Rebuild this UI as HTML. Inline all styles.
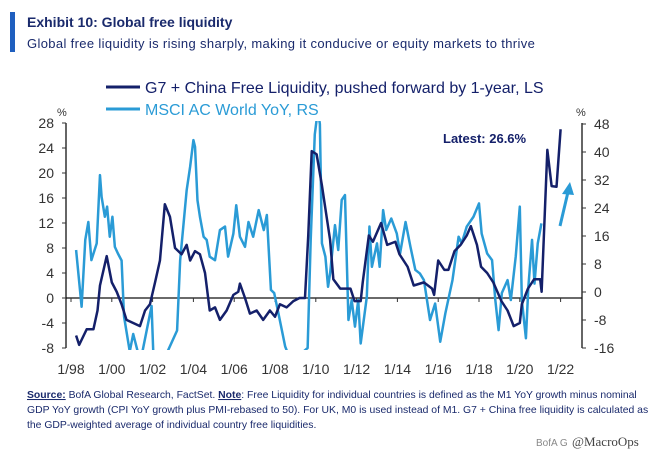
<!DOCTYPE html>
<html><head><meta charset="utf-8"><style>
body{margin:0;background:#fff;width:662px;height:456px;overflow:hidden;font-family:"Liberation Sans",sans-serif}
</style></head><body>
<svg id="c" width="662" height="456" viewBox="0 0 662 456" xmlns="http://www.w3.org/2000/svg">
<rect x="10" y="12" width="5" height="40" fill="#1f5fbf"/>
<text x="27" y="27" font-size="14" font-weight="bold" fill="#1a2a6c">Exhibit 10: Global free liquidity</text>
<text x="27" y="48" font-size="13" letter-spacing="0.35" fill="#1a2a6c">Global free liquidity is rising sharply, making it conducive or equity markets to thrive</text>
<line x1="106" y1="87" x2="140" y2="87" stroke="#14206a" stroke-width="3"/>
<text x="145" y="93" font-size="16" fill="#14206a">G7 + China Free Liquidity, pushed forward by 1-year, LS</text>
<line x1="106" y1="109" x2="140" y2="109" stroke="#2a9bd6" stroke-width="3"/>
<text x="145" y="115" font-size="16" fill="#2a9bd6">MSCI AC World YoY, RS</text>
<text x="57" y="116" font-size="11" fill="#333">%</text>
<text x="576" y="116" font-size="11" fill="#333">%</text>
<text x="443" y="143" font-size="13" font-weight="bold" fill="#14206a">Latest: 26.6%</text>
<g id="axes"></g>
<defs><clipPath id="clip"><rect x="66" y="121" width="516" height="229"/></clipPath></defs>
<g clip-path="url(#clip)" id="series"></g>
<line x1="560" y1="226" x2="568" y2="192" stroke="#2a9bd6" stroke-width="3"/>
<polygon points="570,182 562,194 574,195" fill="#2a9bd6"/>
<text x="27" y="398" font-size="10.4" fill="#1a2a6c"><tspan font-weight="bold" text-decoration="underline">Source:</tspan> BofA Global Research, FactSet. <tspan font-weight="bold" text-decoration="underline">Note</tspan>: Free Liquidity for individual countries is defined as the M1 YoY growth minus nominal</text>
<text x="27" y="413" font-size="10.4" fill="#1a2a6c">GDP YoY growth (CPI YoY growth plus PMI-rebased to 50). For UK, M0 is used instead of M1. G7 + China free liquidity is calculated as</text>
<text x="27" y="428" font-size="10.4" fill="#1a2a6c">the GDP-weighted average of individual country free liquidities.</text>
<text x="536" y="446" font-size="10" fill="#888">BofA G</text>
<text x="572" y="446" font-size="13" font-family="Liberation Serif" fill="#444">@MacroOps</text>
</svg>
<script>
const liqYears=[1998.25,1998.4,1998.77,1999.1,1999.3,1999.42,1999.75,2000.0,2000.24,2000.48,2000.72,2001.05,2001.38,2001.63,2001.87,2002.12,2002.36,2002.6,2002.85,2003.1,2003.42,2003.67,2003.84,2004.08,2004.32,2004.57,2004.8,2005.06,2005.3,2005.63,2005.96,2006.2,2006.28,2006.53,2006.77,2007.1,2007.42,2007.75,2008.0,2008.24,2008.57,2008.9,2009.2,2009.47,2009.63,2009.8,2010.04,2010.3,2010.7,2010.86,2011.2,2011.7,2011.9,2012.2,2012.3,2012.6,2012.8,2013.2,2013.5,2013.9,2014.1,2014.5,2014.8,2015.3,2015.7,2015.8,2016.0,2016.3,2016.5,2016.8,2017.1,2017.4,2017.6,2017.9,2018.1,2018.4,2018.7,2019.1,2019.4,2019.7,2020.0,2020.1,2020.4,2020.7,2021.0,2021.07,2021.35,2021.56,2021.8,2022.0];
const liqValues=[-6,-7.5,-5,-5,-2,2,6.7,2.5,1,-1,-3.5,-4,-4.5,-2,-1,2.5,6,15,13,8,7,8.5,6,7.5,7,4,-2,-1.5,-3.5,-2,0.5,1,2.3,0,-2.5,-2,-3.5,-2,-3,-1,-1.5,-0.5,0,0,10,23.5,23,18,9.3,3,1.5,1.5,-0.5,-0.5,2.5,10,9,12,8.5,9,7,5,2,2.5,1.5,0.5,6,4.5,4.5,7.5,8.5,10,11.5,8.5,5,4,2.5,-0.5,-2,-4.5,-4,-1,1.5,3,3,1,23.7,17.9,17.8,27];
const msciYears=[1998.25,1998.52,1998.7,1998.85,1999.0,1999.26,1999.42,1999.5,1999.66,1999.77,1999.9,2000.03,2000.15,2000.3,2000.48,2000.6,2000.88,2001.05,2001.4,2001.95,2002.05,2002.5,2003.2,2003.35,2003.67,2003.84,2004.0,2004.08,2004.2,2004.32,2004.5,2004.65,2004.8,2005.06,2005.3,2005.55,2005.7,2005.96,2006.1,2006.28,2006.53,2006.7,2006.93,2007.2,2007.45,2007.6,2007.8,2007.96,2008.2,2008.5,2008.8,2009.6,2009.75,2009.95,2010.1,2010.2,2010.3,2010.47,2010.6,2010.7,2010.94,2011.1,2011.27,2011.43,2011.6,2011.76,2011.92,2012.08,2012.2,2012.5,2012.63,2012.75,2013.0,2013.13,2013.3,2013.45,2013.7,2013.97,2014.13,2014.4,2014.64,2014.88,2015.1,2015.3,2015.6,2015.85,2016.1,2016.35,2016.7,2017.0,2017.15,2017.4,2017.73,2018.0,2018.13,2018.4,2018.64,2018.8,2018.96,2019.12,2019.4,2019.56,2019.8,2020.0,2020.1,2020.3,2020.42,2020.6,2020.72,2020.88,2021.06];
const msciValues=[12,-4.2,14.9,20,9.1,13.9,33.4,27.2,21.5,24.4,15.8,21.5,12.9,11,9,-7,-17,-12,-20,-4,-20,-20,-11,9,29.1,35.8,43.4,41.5,26.2,21.5,15.8,14.9,10.1,9.1,17.7,18.7,10.1,16.7,24.8,15.8,12.9,20,15.8,23.4,17.7,22,0.6,-0.3,-7,-15.6,-20,-16,14.9,45,52,48,13.9,10.1,1.5,5.3,19.1,12,26.3,27.7,-8,-2.3,-9.9,-2.3,-14.7,-1.4,18.7,7.2,13.9,7.2,23.4,17.7,21,16.7,11,20,12.9,6.3,5.3,3.4,-8,-3.3,-14.2,-6.1,3.4,15.8,13.9,18.7,21.5,25.3,16.7,11,9.1,-2.3,-10.9,-0.3,3.4,-2.3,10.1,24.4,-2.3,-13.2,1.5,14.9,2.4,13.9,19.6];
const leftTicks=[28,24,20,16,12,8,4,0,-4,-8];
const rightTicks=[48,40,32,24,16,8,0,-8,-16];
const xTickLabels=['1/98','1/00','1/02','1/04','1/06','1/08','1/10','1/12','1/14','1/16','1/18','1/20','1/22'];
const xTickYears=[1998,2000,2002,2004,2006,2008,2010,2012,2014,2016,2018,2020,2022];

const NS='http://www.w3.org/2000/svg';
const xS=y=>71+(y-1998)*20.4;
const yL=v=>298-v*6.25;
const yR=v=>292-v*3.5;
function mk(t,a,p){const e=document.createElementNS(NS,t);for(const k in a)e.setAttribute(k,a[k]);p.appendChild(e);return e;}
const ax=document.getElementById('axes');
let e;
e=mk('line',{x1:66,y1:123,x2:66,y2:348,stroke:'#333','stroke-width':1.5},ax);


e=mk('line',{x1:582,y1:123,x2:582,y2:348,stroke:'#333','stroke-width':1.5},ax);


e=mk('line',{x1:66,y1:yL(0),x2:582,y2:yL(0),stroke:'#111','stroke-width':1.2},ax);


leftTicks.forEach(v=>{
 mk('line',{x1:62,y1:yL(v),x2:66,y2:yL(v),stroke:'#333'},ax);
 e=mk('text',{x:54,y:yL(v)+5,'font-size':14,'text-anchor':'end',fill:'#333'},ax);e.textContent=v;
 
 
});
rightTicks.forEach(v=>{
 mk('line',{x1:582,y1:yR(v),x2:586,y2:yR(v),stroke:'#333'},ax);
 e=mk('text',{x:594,y:yR(v)+5,'font-size':14,fill:'#333'},ax);e.textContent=v;
 
 
});
xTickYears.forEach((yr,i)=>{
 mk('line',{x1:xS(yr),y1:yL(0),x2:xS(yr),y2:yL(0)+4,stroke:'#333'},ax);
 e=mk('text',{x:xS(yr),y:374,'font-size':14,'text-anchor':'middle',fill:'#333'},ax);e.textContent=xTickLabels[i];
 
 
});
const sg=document.getElementById('series');
e=mk('polyline',{points:msciYears.map((y,i)=>xS(y)+','+yR(msciValues[i])).join(' '),fill:'none',stroke:'#2a9bd6','stroke-width':2.5,'stroke-linejoin':'round'},sg);


e=mk('polyline',{points:liqYears.map((y,i)=>xS(y)+','+yL(liqValues[i])).join(' '),fill:'none',stroke:'#14206a','stroke-width':2.5,'stroke-linejoin':'round'},sg);


</script>
</body></html>
